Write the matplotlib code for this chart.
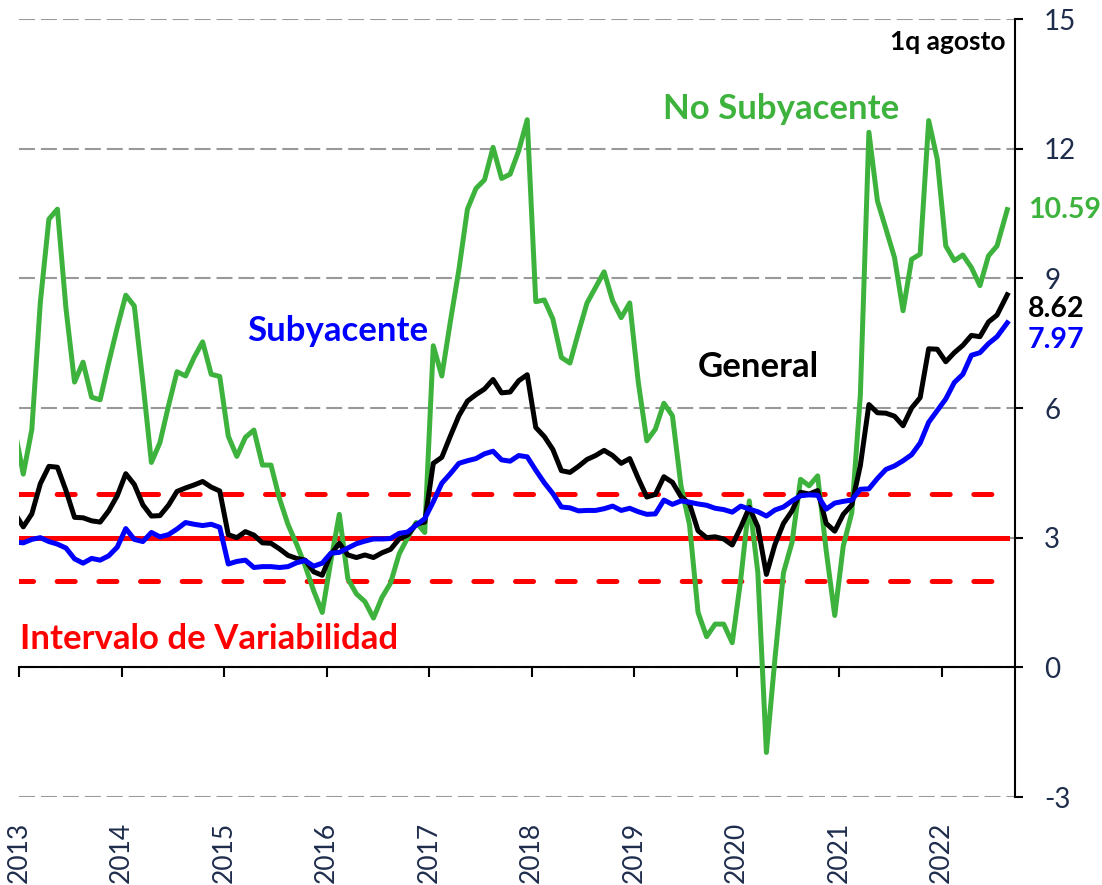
import matplotlib
matplotlib.use('Agg')
import matplotlib.pyplot as plt
import numpy as np

plt.rcParams['font.family'] = ['Lato', 'DejaVu Sans']
plt.rcParams['lines.scale_dashes'] = False
plt.rcParams['axes.unicode_minus'] = False

# inflacion anual, dic 2012 ... jul 2022 mensual + 1q agosto 2022
general = [3.57,
           3.25, 3.55, 4.25, 4.65, 4.63, 4.09, 3.47, 3.46, 3.39, 3.36, 3.62, 3.97,
           4.48, 4.23, 3.76, 3.50, 3.51, 3.75, 4.07, 4.15, 4.22, 4.30, 4.17, 4.08,
           3.07, 3.00, 3.14, 3.06, 2.88, 2.87, 2.74, 2.59, 2.52, 2.48, 2.21, 2.13,
           2.61, 2.87, 2.60, 2.54, 2.60, 2.54, 2.65, 2.73, 2.97, 3.06, 3.31, 3.36,
           4.72, 4.86, 5.35, 5.82, 6.16, 6.31, 6.44, 6.66, 6.35, 6.37, 6.63, 6.77,
           5.55, 5.34, 5.04, 4.55, 4.51, 4.65, 4.81, 4.90, 5.02, 4.90, 4.72, 4.83,
           4.37, 3.94, 4.00, 4.41, 4.28, 3.95, 3.78, 3.16, 3.00, 3.02, 2.97, 2.83,
           3.24, 3.70, 3.25, 2.15, 2.84, 3.33, 3.62, 4.05, 4.01, 4.09, 3.33, 3.15,
           3.54, 3.76, 4.67, 6.08, 5.89, 5.88, 5.81, 5.59, 6.00, 6.24, 7.37, 7.36,
           7.07, 7.28, 7.45, 7.68, 7.65, 7.99, 8.15, 8.62]

subyacente = [2.90,
              2.88, 2.96, 3.00, 2.91, 2.85, 2.76, 2.51, 2.41, 2.52, 2.48, 2.58, 2.78,
              3.21, 2.96, 2.91, 3.12, 3.02, 3.07, 3.20, 3.35, 3.31, 3.28, 3.31, 3.24,
              2.39, 2.45, 2.48, 2.31, 2.33, 2.33, 2.31, 2.33, 2.42, 2.47, 2.34, 2.41,
              2.64, 2.66, 2.76, 2.86, 2.92, 2.97, 2.97, 2.98, 3.10, 3.13, 3.29, 3.44,
              3.83, 4.26, 4.48, 4.72, 4.78, 4.83, 4.94, 5.00, 4.80, 4.77, 4.90, 4.87,
              4.56, 4.27, 4.02, 3.71, 3.69, 3.62, 3.63, 3.63, 3.67, 3.73, 3.63, 3.68,
              3.60, 3.54, 3.55, 3.87, 3.77, 3.85, 3.82, 3.78, 3.75, 3.68, 3.65, 3.59,
              3.73, 3.66, 3.60, 3.50, 3.64, 3.71, 3.85, 3.97, 3.99, 3.98, 3.66, 3.80,
              3.84, 3.87, 4.12, 4.13, 4.37, 4.58, 4.66, 4.78, 4.92, 5.19, 5.67, 5.94,
              6.21, 6.59, 6.78, 7.22, 7.28, 7.49, 7.65, 7.97]

no_subyacente = [5.50,
                 4.47, 5.50, 8.45, 10.37, 10.60, 8.30, 6.60, 7.06, 6.25, 6.19, 7.05, 7.86,
                 8.61, 8.36, 6.60, 4.74, 5.20, 6.05, 6.84, 6.74, 7.17, 7.53, 6.78, 6.73,
                 5.35, 4.88, 5.32, 5.49, 4.68, 4.68, 3.90, 3.30, 2.85, 2.35, 1.77, 1.27,
                 2.45, 3.54, 2.05, 1.70, 1.52, 1.14, 1.62, 1.95, 2.62, 3.00, 3.35, 3.12,
                 7.44, 6.74, 8.00, 9.20, 10.60, 11.08, 11.28, 12.03, 11.31, 11.41, 11.95, 12.67,
                 8.46, 8.50, 8.06, 7.17, 7.04, 7.75, 8.43, 8.79, 9.15, 8.48, 8.09, 8.43,
                 6.60, 5.24, 5.51, 6.11, 5.82, 4.20, 3.30, 1.27, 0.71, 1.00, 1.00, 0.57,
                 2.04, 3.85, 2.19, -1.97, 0.20, 2.19, 2.89, 4.35, 4.20, 4.43, 2.70, 1.20,
                 2.81, 3.58, 6.30, 12.38, 10.79, 10.14, 9.48, 8.25, 9.44, 9.56, 12.65, 11.76,
                 9.75, 9.41, 9.54, 9.25, 8.83, 9.52, 9.75, 10.59]

# posicion en anos: mitad de cada mes, la ultima es la 1q de agosto
meses = np.arange(len(general))
fechas = 2012 + (11.5 + meses) / 12.0
fechas[-1] = 2022 + 7.7 / 12.0

meta = 3
banda = [2, 4]
anios = list(range(2013, 2023))

verde = '#3DB33D'
azul = '#0000FF'
rojo = '#FF0000'
txt_eje = '#1F2D4D'

fig = plt.figure(figsize=(11.02, 8.85), dpi=100)
ax = fig.add_axes([19 / 1102, 1 - 797 / 885, 996 / 1102, 778 / 885])

ax.set_xlim(2013, 2013 + 996 / 102.5)
ax.set_ylim(-3, 15)

# intervalo de variabilidad
extremos = [fechas[0], fechas[-1]]
ax.plot(extremos, [meta, meta], color=rojo, lw=3.6, zorder=2)
for b in banda:
    ax.plot(extremos, [b, b], color=rojo, lw=3.6, dashes=(13, 17),
            dash_capstyle='round', zorder=2)

ax.plot(fechas, no_subyacente, color=verde, lw=3.6, zorder=3)
ax.plot(fechas, general, color='black', lw=3.6, zorder=4)
ax.plot(fechas, subyacente, color=azul, lw=3.6, zorder=5)

# ejes
for s in ['left', 'top']:
    ax.spines[s].set_visible(False)
ax.spines['right'].set_linewidth(1.5)
ax.spines['bottom'].set_position(('data', 0))
ax.spines['bottom'].set_linewidth(1.5)

ax.yaxis.tick_right()
ax.set_yticks(range(-3, 16, 3))
ax.tick_params(axis='y', direction='out', length=6, width=1.5, pad=15,
               labelsize=20, labelcolor=txt_eje)
ax.set_xticks(anios)
ax.tick_params(axis='x', direction='out', length=7, width=1.5, labelbottom=False)

ax.yaxis.grid(True, color='#999999', lw=1.5, linestyle=(0, (11.5, 4.3)))
ax.set_axisbelow(True)

sec = ax.secondary_xaxis('bottom')
sec.set_xticks(anios, labels=[str(a) for a in anios])
sec.tick_params(length=0, pad=18, labelsize=19, labelcolor=txt_eje, labelrotation=90)
sec.spines['bottom'].set_visible(False)

# textos
ax.text(2022.62, 14.46, '1q agosto', ha='right', va='center', fontsize=19,
        fontweight='bold', color='black')
ax.text(2020.44, 12.92, 'No Subyacente', ha='center', va='center', fontsize=25,
        fontweight='bold', color=verde)
ax.text(2016.107, 7.77, 'Subyacente', ha='center', va='center', fontsize=25,
        fontweight='bold', color=azul)
ax.text(2020.215, 6.96, 'General', ha='center', va='center', fontsize=25,
        fontweight='bold', color='black')
ax.text(2013.01, 0.66, 'Intervalo de Variabilidad', ha='left', va='center',
        fontsize=25, fontweight='bold', color=rojo)

xr = 2013 + (1028 - 19) / 102.5
ax.text(xr, 10.59, f'{no_subyacente[-1]:.2f}', ha='left', va='center', fontsize=20.5,
        fontweight='bold', color=verde, clip_on=False)
ax.text(xr, 8.30, f'{general[-1]:.2f}', ha='left', va='center', fontsize=20.5,
        fontweight='bold', color='black', clip_on=False)
ax.text(xr, 7.58, f'{subyacente[-1]:.2f}', ha='left', va='center', fontsize=20.5,
        fontweight='bold', color=azul, clip_on=False)

fig.savefig('out.png', dpi=100)
